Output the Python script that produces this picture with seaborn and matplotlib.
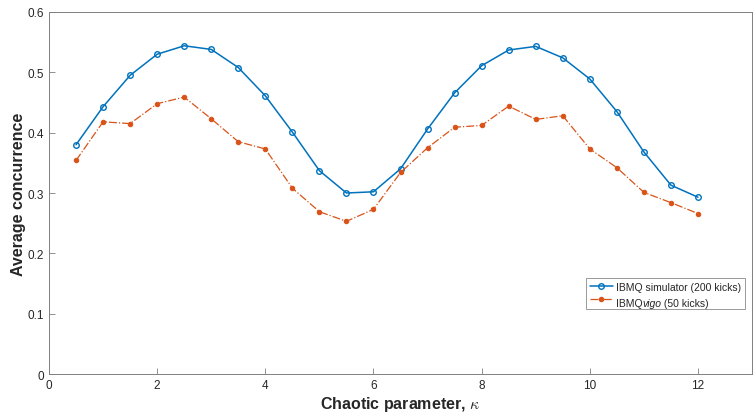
import matplotlib
matplotlib.use("Agg")
import matplotlib.pyplot as plt
import seaborn as sns
import pandas as pd

kappa = [0.5, 1, 1.5, 2, 2.5, 3, 3.5, 4, 4.5, 5, 5.5, 6, 6.5, 7, 7.5, 8, 8.5, 9, 9.5, 10, 10.5, 11, 11.5, 12]
sim_200 = [0.380, 0.443, 0.495, 0.530, 0.544, 0.538, 0.508, 0.461, 0.401, 0.337, 0.300, 0.302,
           0.340, 0.406, 0.466, 0.511, 0.537, 0.543, 0.524, 0.489, 0.435, 0.368, 0.313, 0.293]
vigo_50 = [0.354, 0.418, 0.415, 0.448, 0.459, 0.423, 0.385, 0.373, 0.308, 0.269, 0.253, 0.273,
           0.334, 0.375, 0.409, 0.412, 0.444, 0.422, 0.428, 0.373, 0.342, 0.301, 0.284, 0.266]
x_ticks = [0, 2, 4, 6, 8, 10, 12]
y_ticks = [0, 0.1, 0.2, 0.3, 0.4, 0.5, 0.6]

sns.set_style("white")
plt.rcParams['font.family'] = ['Liberation Sans', 'DejaVu Sans']
plt.rcParams['mathtext.fontset'] = 'cm'

df1 = pd.DataFrame({"k": kappa, "c": sim_200})
df2 = pd.DataFrame({"k": kappa, "c": vigo_50})

fig = plt.figure(figsize=(7.56, 4.14), dpi=100)
ax = fig.add_axes([0.0648, 0.0942, 0.930, 0.8744])

blue = "#0072BD"
orange = "#D95319"
sns.lineplot(data=df1, x="k", y="c", ax=ax, color=blue, linewidth=1.1,
             marker="o", markersize=4, markerfacecolor="none", markeredgecolor=blue,
             markeredgewidth=1.0, label="IBMQ simulator (200 kicks)")
sns.lineplot(data=df2, x="k", y="c", ax=ax, color=orange, linewidth=0.9, linestyle="-.",
             marker="o", markersize=3.2, markerfacecolor=orange, markeredgecolor=orange,
             label="IBMQvigo (50 kicks)")

ax.set_xlim(0, 13)
ax.set_ylim(0, 0.6)
ax.set_xticks(x_ticks)
ax.set_yticks(y_ticks)
ax.set_xticklabels([str(t) for t in x_ticks])
ax.set_yticklabels(["0"] + [f"{t:.1f}" for t in y_ticks[1:]])
ax.tick_params(direction="in", length=4, width=0.6, colors="#262626", labelsize=8.5,
               bottom=True, left=True, top=False, right=False)
ax.tick_params(axis="both", color="#808080")
for s in ax.spines.values():
    s.set_color("#808080")
    s.set_linewidth(0.7)

ax.set_xlabel("Chaotic parameter, $\\kappa$", fontsize=11.5, fontweight="bold", labelpad=2)
ax.set_ylabel("Average concurrence", fontsize=11.5, fontweight="bold", labelpad=1)

leg = ax.legend(loc="lower right", bbox_to_anchor=(0.9975, 0.165), fontsize=7.5,
                frameon=True, fancybox=False, handlelength=2.2, borderpad=0.4,
                labelspacing=0.3, handletextpad=0.3)
leg.get_frame().set_edgecolor("#808080")
leg.get_frame().set_linewidth(0.7)
# italicize "vigo" in the second legend entry
txt = leg.get_texts()[1]
txt.set_text("")
from matplotlib.offsetbox import TextArea, HPacker
fig.canvas.draw()
bb = txt.get_window_extent().transformed(fig.transFigure.inverted())
fig.text(bb.x0, bb.y0 + bb.height / 2, "IBMQ", fontsize=7.5, va="center", ha="left")
r = fig.canvas.get_renderer()
t1 = fig.texts[-1]
w1 = t1.get_window_extent(renderer=r).transformed(fig.transFigure.inverted()).width
fig.text(bb.x0 + w1, bb.y0 + bb.height / 2, "vigo", fontsize=7.5, style="italic", va="center", ha="left")
t2 = fig.texts[-1]
w2 = t2.get_window_extent(renderer=r).transformed(fig.transFigure.inverted()).width
fig.text(bb.x0 + w1 + w2, bb.y0 + bb.height / 2, " (50 kicks)", fontsize=7.5, va="center", ha="left")

fig.savefig("out.png", dpi=100)
